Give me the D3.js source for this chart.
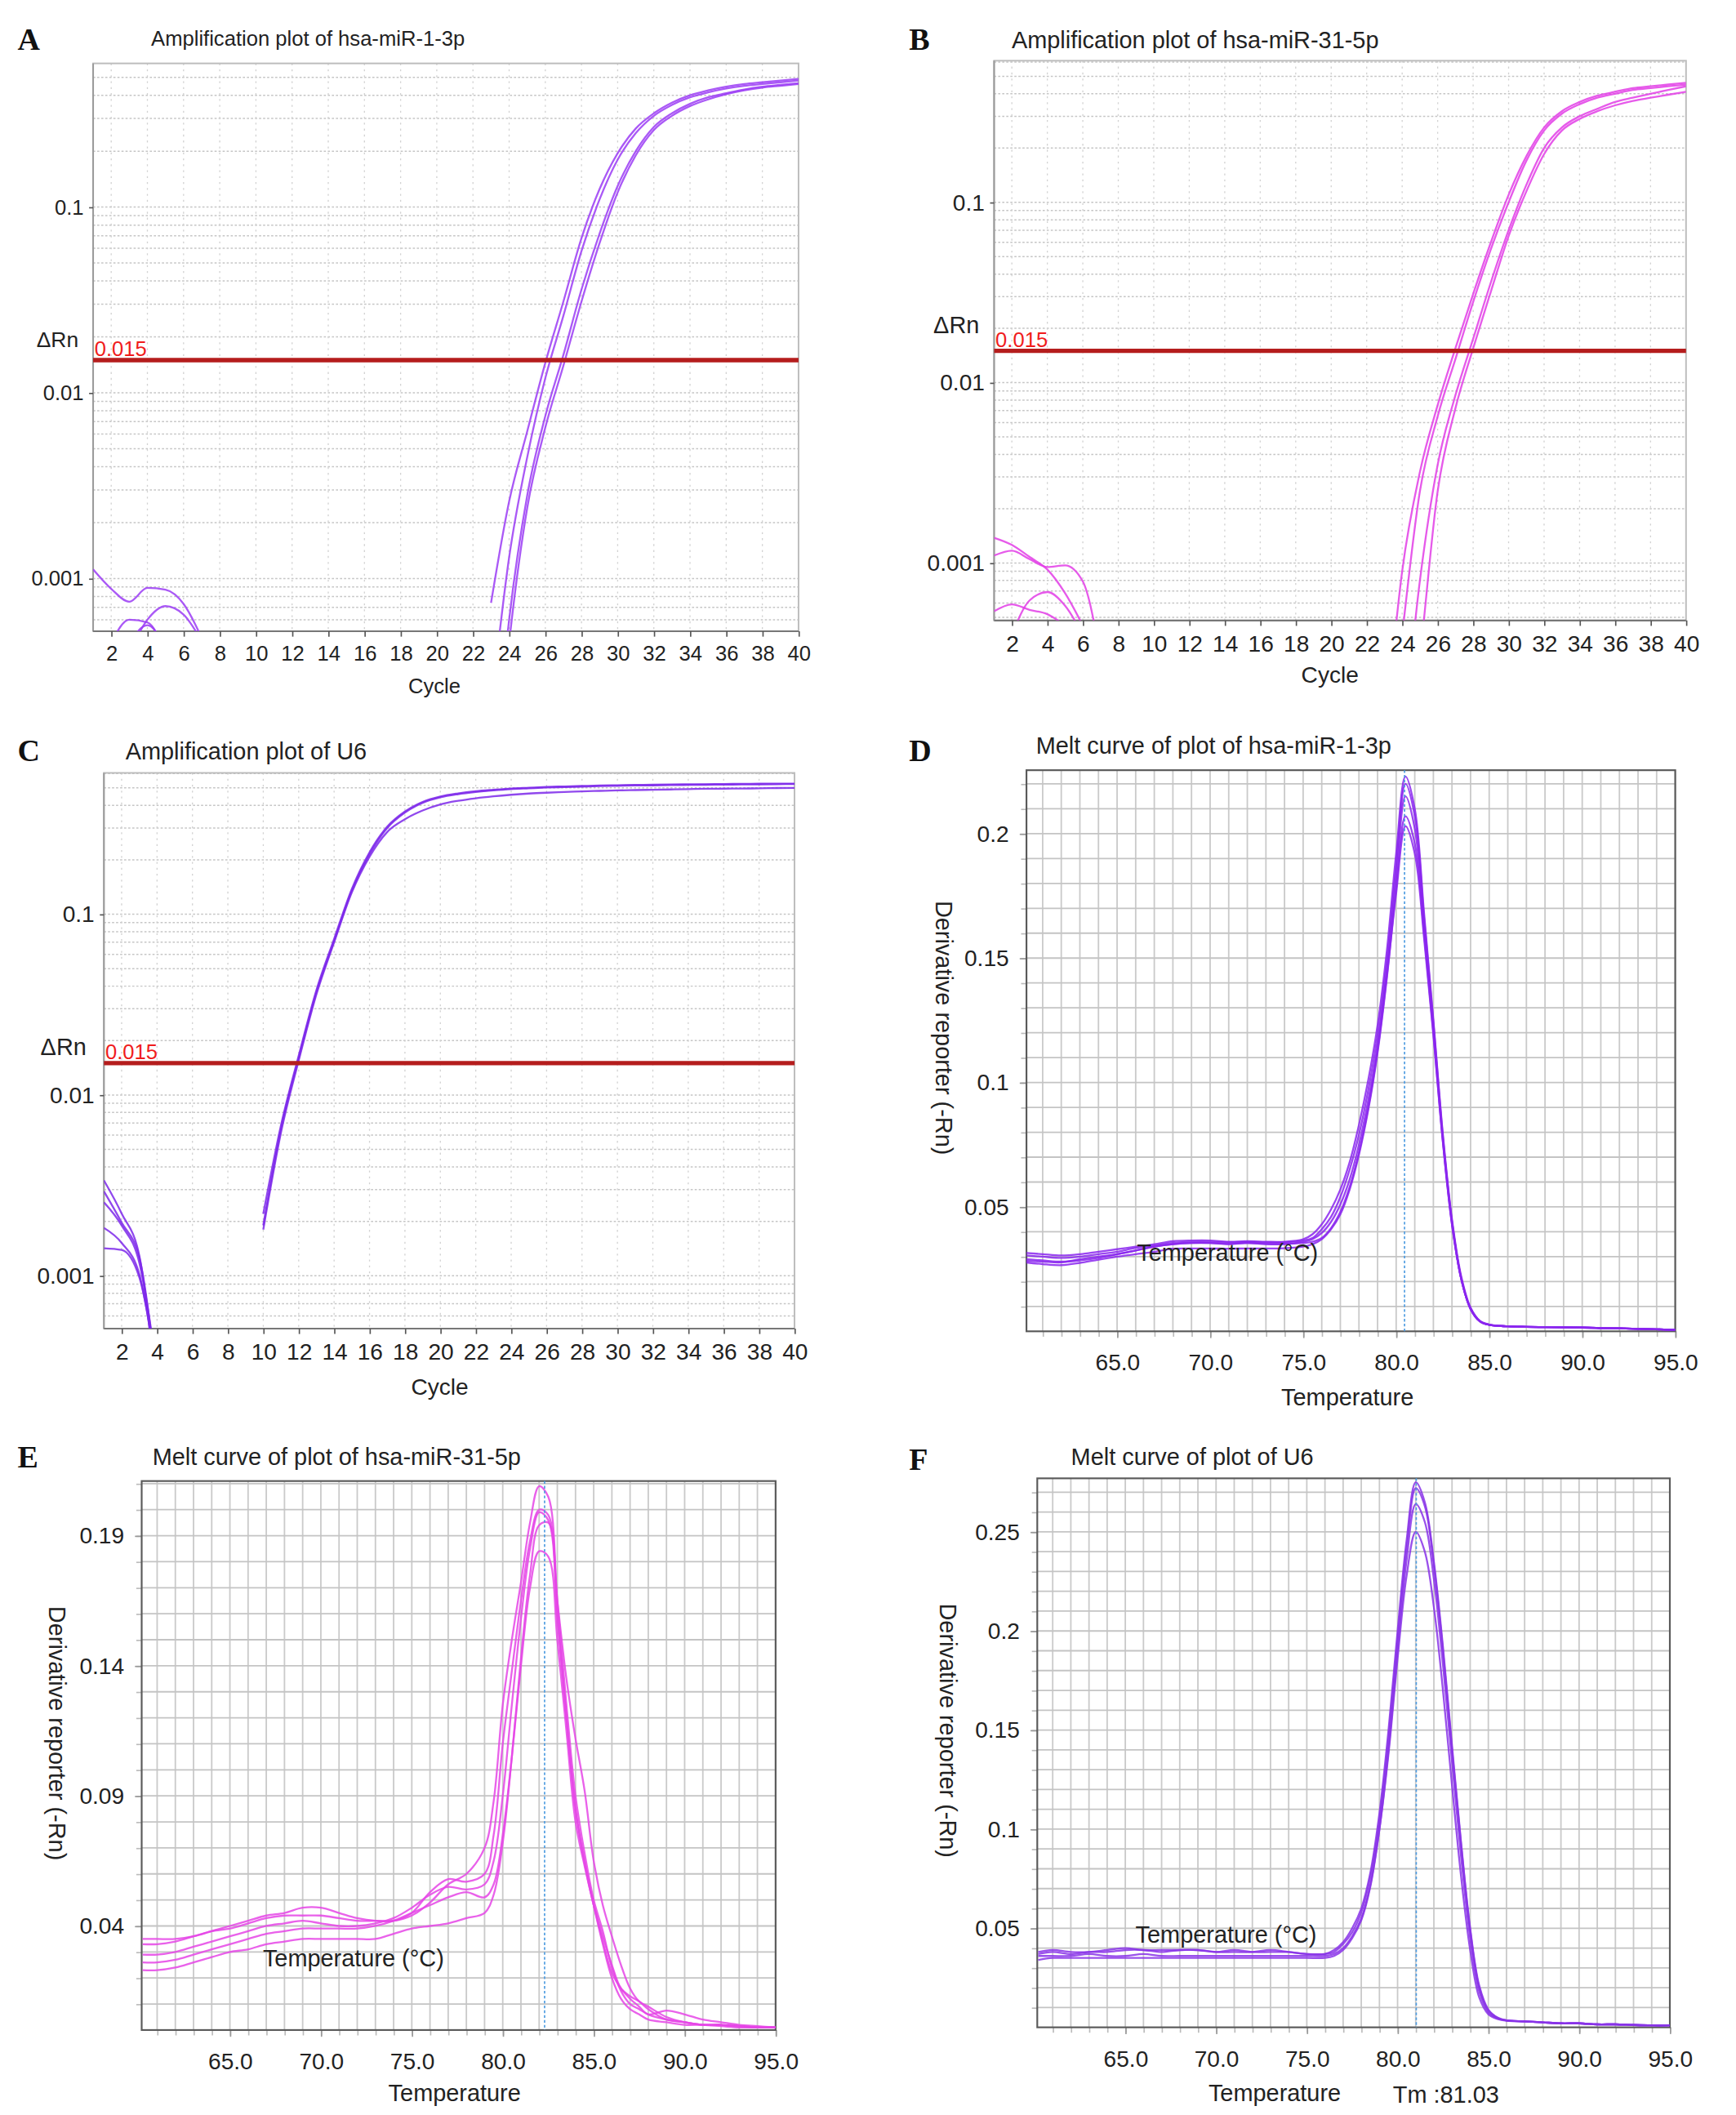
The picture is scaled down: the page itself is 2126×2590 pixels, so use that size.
<!DOCTYPE html>
<html>
<head>
<meta charset="utf-8">
<script src="https://cdn.jsdelivr.net/npm/d3@7"></script>
<style>
  body { margin: 0; background: #fff; }
  svg { display: block; }
</style>
</head>
<body>
<svg id="fig" width="2126" height="2590" viewBox="0 0 1287 1568"></svg>
<script>
// ---------- data ----------

// amplification plots: cycles and delta Rn per well
var cycLate = [23,24,25,26,27,28,29,30,31,32,33,34,35,36,37,38,39,40];
var cycU6 = [10,11,12,13,14,15,16,17,18,19,20,21,22,23,24,25,26,27,28,29,30,31,32,33,34,35,36,37,38,39,40];
var cycEarly = [1,2,3,4,5,6,7];
var cycU6Early = [1,2,3,4];
var cycleTicks = [2,4,6,8,10,12,14,16,18,20,22,24,26,28,30,32,34,36,38,40];
var ampYTicks = [0.001, 0.01, 0.1];
var threshold = 0.015;

var miR1_amp = [
  [0.00074,0.0026,0.0062,0.0145,0.031,0.068,0.125,0.195,0.265,0.32,0.365,0.40,0.425,0.445,0.46,0.47,0.48,0.49],
  [0.0002,0.0013,0.0045,0.012,0.026,0.058,0.11,0.18,0.25,0.31,0.355,0.39,0.415,0.435,0.45,0.46,0.47,0.48],
  [0.00006,0.0006,0.0028,0.0075,0.016,0.036,0.072,0.13,0.2,0.27,0.32,0.36,0.39,0.41,0.43,0.445,0.455,0.465],
  [0.00004,0.00045,0.0024,0.0065,0.014,0.031,0.064,0.12,0.19,0.26,0.31,0.35,0.38,0.405,0.425,0.44,0.45,0.46]
];
var miR1_noise = [
  [0.00112,0.00088,0.00075,0.00089,0.00087,0.00073,0.00048],
  [null,null,0.0004,0.0006,0.00071,0.00064,0.00046],
  [null,0.00045,0.0006,0.00058,0.0004,null,null],
  [null,null,0.00045,0.00056,0.00042,null,null]
];

var miR31_amp = [
  [0.0001,0.0009,0.0032,0.0075,0.0155,0.031,0.06,0.11,0.18,0.26,0.32,0.36,0.39,0.41,0.43,0.44,0.45,0.46],
  [0.00005,0.0004,0.0025,0.0065,0.0135,0.028,0.055,0.1,0.17,0.25,0.31,0.35,0.38,0.40,0.42,0.43,0.44,0.45],
  [0.00002,0.0001,0.0008,0.0035,0.0085,0.0175,0.036,0.07,0.125,0.2,0.26,0.3,0.33,0.36,0.38,0.4,0.42,0.44],
  [0.00001,0.00005,0.0003,0.0025,0.0072,0.0155,0.032,0.065,0.115,0.185,0.25,0.29,0.32,0.345,0.365,0.38,0.395,0.41]
];
var miR31_noise = [
  [0.00138,0.00126,0.00108,0.00092,0.00068,0.00045,null],
  [0.0011,0.00117,0.00105,0.00095,0.00097,0.00079,0.0003],
  [0.00054,0.00059,0.00055,0.00052,0.00045,null,null],
  [null,0.0004,0.00062,0.00069,0.00058,0.0004,null]
];

var u6_amp = [
  [0.0022,0.0068,0.0165,0.038,0.073,0.138,0.22,0.305,0.37,0.418,0.448,0.466,0.479,0.488,0.496,0.501,0.506,0.509,0.512,0.515,0.517,0.519,0.52,0.522,0.523,0.524,0.525,0.526,0.527,0.528,0.528],
  [0.0019,0.0065,0.016,0.037,0.071,0.135,0.215,0.3,0.365,0.413,0.443,0.461,0.474,0.484,0.492,0.497,0.502,0.505,0.508,0.511,0.513,0.515,0.516,0.518,0.519,0.52,0.521,0.522,0.523,0.524,0.525],
  [0.0018,0.0062,0.0155,0.036,0.07,0.132,0.208,0.285,0.335,0.375,0.405,0.424,0.438,0.449,0.458,0.465,0.47,0.474,0.478,0.481,0.484,0.486,0.488,0.49,0.492,0.494,0.495,0.496,0.497,0.499,0.5]
];
var u6_noise = [
  [0.00337,0.00221,0.00129,0.0002],
  [0.00293,0.00197,0.00126,0.00025],
  [0.00255,0.0019,0.00118,0.0003],
  [0.00184,0.00152,0.00102,0.00028],
  [0.00142,0.00139,0.00098,0.0003]
];

// melt curves: temperature and derivative reporter per well
var tempTicks = [65,70,75,80,85,90,95];

var tempD = [60.1,61,62,63,64,65,66,67,68,69,70,71,72,73,74,75,
  75.5,76,76.5,77,77.5,78,78.5,79,79.5,80,80.5,81,81.5,82,82.5,83,83.5,84,84.5,85,
  86,87,88,89,90,91,92,93,94,95];
var miR1_melt = [
  [.0315,.031,.0305,.031,.032,.033,.034,.035,.0362,.0365,.0365,.036,.0362,.036,.036,.037,
   .039,.043,.049,.057,.068,.083,.101,.123,.153,.192,.223,.21,.168,.125,.08,.045,.022,.0095,.0042,.0027,
   .002,.0018,.0017,.0016,.0015,.0013,.0012,.001,.0008,.0006],
  [.0305,.030,.0295,.030,.031,.032,.0335,.0345,.0355,.036,.036,.0358,.036,.0358,.0358,.0365,
   .0375,.041,.046,.054,.065,.079,.097,.119,.149,.187,.22,.207,.166,.124,.079,.044,.021,.009,.004,.0026,
   .002,.0018,.0017,.0016,.0015,.0013,.0012,.001,.0008,.0006],
  [.0283,.028,.0277,.029,.030,.031,.0325,.034,.035,.0355,.0355,.035,.0355,.035,.035,.036,
   .037,.0395,.044,.051,.061,.075,.093,.115,.145,.183,.215,.202,.163,.122,.078,.044,.021,.009,.004,.0026,
   .002,.0018,.0017,.0016,.0015,.0013,.0012,.001,.0008,.0006],
  [.0277,.027,.0266,.0275,.0288,.030,.031,.032,.0332,.0333,.0333,.0332,.0333,.0333,.0334,.034,
   .035,.037,.041,.047,.057,.071,.089,.112,.142,.178,.207,.196,.16,.12,.077,.043,.021,.009,.004,.0026,
   .002,.0018,.0017,.0016,.0015,.0013,.0012,.001,.0008,.0006],
  [.029,.0285,.028,.0285,.0295,.031,.0325,.034,.035,.0355,.0355,.0352,.0355,.0352,.0352,.0355,
   .036,.0375,.0415,.048,.058,.072,.09,.113,.143,.176,.203,.192,.158,.119,.077,.043,.021,.009,.004,.0026,
   .002,.0018,.0017,.0016,.0015,.0013,.0012,.001,.0008,.0006]
];
var tmD = 80.45;
var yTicksD = [0.05, 0.1, 0.15, 0.2];

var tempE = [60.2,61,62,63,64,65,66,67,68,69,70,71,72,73,74,75,76,77,78,79,
  79.5,80,80.5,81,81.5,82,82.5,83,83.5,84,84.5,85,85.5,86,86.5,87,87.5,
  88,89,90,91,92,93,94,95];
var miR31_melt = [
  [.035,.035,.035,.036,.038,.040,.042,.044,.045,.047,.047,.045,.043,.042,.042,.044,.049,.056,.060,.070,
   .088,.125,.150,.172,.195,.209,.205,.165,.125,.09,.068,.05,.038,.024,.015,.01,.008,
   .006,.004,.003,.002,.002,.0015,.001,.001],
  [.033,.033,.034,.036,.038,.039,.041,.043,.044,.044,.044,.043,.042,.042,.042,.045,.053,.058,.057,.060,
   .075,.11,.138,.165,.188,.200,.198,.165,.135,.112,.092,.065,.048,.036,.025,.016,.011,
   .009,.005,.003,.002,.002,.0015,.001,.001],
  [.029,.029,.030,.032,.034,.036,.038,.040,.041,.042,.041,.040,.040,.041,.043,.047,.052,.055,.054,.056,
   .065,.09,.125,.158,.185,.199,.196,.16,.12,.085,.064,.048,.036,.025,.016,.013,.011,
   .008,.004,.003,.002,.002,.0015,.001,.001],
  [.026,.026,.027,.029,.031,.033,.035,.037,.038,.039,.039,.039,.039,.040,.042,.045,.048,.051,.053,.051,
   .056,.075,.105,.140,.170,.184,.182,.15,.115,.08,.063,.048,.034,.022,.016,.012,.009,
   .006,.0075,.006,.004,.003,.002,.0015,.001],
  [.023,.023,.024,.026,.028,.030,.031,.033,.034,.035,.035,.035,.035,.035,.037,.039,.040,.041,.043,.045,
   .052,.072,.105,.143,.175,.194,.195,.158,.12,.085,.065,.048,.033,.02,.012,.008,.006,
   .004,.003,.002,.002,.0015,.001,.001,.001]
];
var tmE = 82.3;
var yTicksE = [0.04, 0.09, 0.14, 0.19];

var tempF = [60.2,61,62,63,64,65,66,67,68,69,70,71,72,73,74,75,76,
  76.5,77,77.5,78,78.5,79,79.5,80,80.5,81,81.5,82,82.5,83,83.5,84,84.5,85,85.5,86,
  87,88,89,90,91,92,93,94,95];
var u6_melt = [
  [.038,.039,.038,.038,.039,.040,.039,.039,.039,.039,.038,.038,.038,.039,.038,.037,.037,
   .039,.043,.050,.060,.078,.108,.150,.200,.246,.275,.265,.235,.192,.142,.093,.050,.021,.009,.005,.0035,
   .003,.0025,.002,.002,.0015,.0015,.0012,.001,.001],
  [.037,.038,.037,.038,.038,.039,.039,.038,.039,.039,.038,.039,.038,.038,.038,.037,.037,
   .038,.042,.048,.058,.076,.105,.146,.196,.242,.272,.263,.233,.190,.140,.092,.049,.020,.0085,.0048,.0035,
   .003,.0025,.002,.002,.0015,.0015,.0012,.001,.001],
  [.034,.035,.035,.035,.035,.035,.035,.035,.035,.035,.035,.035,.035,.035,.035,.035,.035,
   .036,.039,.045,.054,.071,.100,.140,.190,.236,.264,.255,.226,.183,.134,.086,.045,.018,.0075,.0045,.0035,
   .003,.0025,.002,.002,.0015,.0015,.0012,.001,.001],
  [.036,.036,.036,.037,.036,.036,.037,.036,.036,.036,.036,.036,.036,.036,.036,.036,.036,
   .037,.040,.046,.055,.072,.100,.138,.186,.228,.250,.240,.212,.170,.122,.076,.039,.015,.0066,.0042,.0033,
   .003,.0025,.002,.002,.0015,.0015,.0012,.001,.001]
];
var tmF = 81.03;
var yTicksF = [0.05, 0.1, 0.15, 0.2, 0.25];

// ---------- drawing ----------
var svg = d3.select("#fig");
var SANS = "'Liberation Sans', Arial, sans-serif";
var SERIF = "'Liberation Serif', 'Times New Roman', serif";
var defs = svg.append("defs");

function zip(xs, ys) {
  return xs.map(function(v, i) { return [v, ys[i]]; });
}

function addText(x, y, str, size, opts) {
  opts = opts || {};
  var t = svg.append("text")
    .attr("x", x).attr("y", y)
    .attr("font-family", opts.family || SANS)
    .attr("font-size", size)
    .attr("font-weight", opts.weight || "normal")
    .attr("fill", opts.fill || "#222")
    .attr("text-anchor", opts.anchor || "start")
    .text(str);
  if (opts.rotate) t.attr("transform", "rotate(" + opts.rotate + "," + x + "," + y + ")");
  return t;
}

function clipFor(p) {
  defs.append("clipPath").attr("id", "clip" + p.id)
    .append("rect").attr("x", p.x0).attr("y", p.y0)
    .attr("width", p.x1 - p.x0).attr("height", p.y1 - p.y0);
  return "url(#clip" + p.id + ")";
}

function styleAxis(ax, size) {
  ax.select(".domain").remove();
  ax.selectAll("text").attr("font-family", SANS).attr("font-size", size).attr("fill", "#222");
  ax.selectAll("line").attr("stroke", "#555");
}

function drawAmp(p, cycles, curves, earlyCycles, noise) {
  var g = svg.append("g");
  var x = d3.scaleLinear().domain([1, 40]).range([p.x0, p.x1]);
  var y = d3.scaleLog().domain(p.yDom).range([p.y1, p.y0]);
  var clip = clipFor(p);

  g.selectAll("line.hg").data(y.ticks()).join("line")
    .attr("x1", p.x0).attr("x2", p.x1)
    .attr("y1", function(d) { return y(d); }).attr("y2", function(d) { return y(d); })
    .attr("stroke", "#c6c6c6").attr("stroke-width", 0.9).attr("stroke-dasharray", "1.6,1.4");
  g.selectAll("line.vg").data(cycleTicks.filter(function(c) { return c < 40; })).join("line")
    .attr("y1", p.y0).attr("y2", p.y1)
    .attr("x1", function(d) { return x(d); }).attr("x2", function(d) { return x(d); })
    .attr("stroke", "#d2d2d2").attr("stroke-width", 0.8).attr("stroke-dasharray", "1.4,3");

  g.append("rect").attr("x", p.x0).attr("y", p.y0)
    .attr("width", p.x1 - p.x0).attr("height", p.y1 - p.y0)
    .attr("fill", "none").attr("stroke", "#bdbdbd").attr("stroke-width", 1.2);
  g.append("line").attr("x1", p.x0).attr("x2", p.x0).attr("y1", p.y0).attr("y2", p.y1)
    .attr("stroke", "#9a9a9a").attr("stroke-width", 1.2);
  g.append("line").attr("x1", p.x0).attr("x2", p.x1).attr("y1", p.y1).attr("y2", p.y1)
    .attr("stroke", "#777").attr("stroke-width", 1.3);

  var ax = g.append("g").attr("transform", "translate(0," + p.y1 + ")")
    .call(d3.axisBottom(x).tickValues(cycleTicks).tickSize(4).tickPadding(7));
  styleAxis(ax, p.tick);
  var ay = g.append("g").attr("transform", "translate(" + p.x0 + ",0)")
    .call(d3.axisLeft(y).tickValues(ampYTicks).tickFormat(function(d) { return String(d); })
      .tickSize(3).tickPadding(4));
  styleAxis(ay, p.tick);

  var line = d3.line()
    .defined(function(d) { return d[1] != null; })
    .x(function(d) { return x(d[0]); })
    .y(function(d) { return y(d[1]); })
    .curve(d3.curveMonotoneX);
  var lines = curves.map(function(c) { return zip(cycles, c); })
    .concat(noise.map(function(c) { return zip(earlyCycles, c); }));
  g.append("g").attr("clip-path", clip)
    .selectAll("path").data(lines).join("path")
    .attr("d", line).attr("fill", "none")
    .attr("stroke", p.color).attr("stroke-width", 1.4).attr("stroke-opacity", 0.85);

  var ty = y(threshold);
  g.append("line").attr("x1", p.x0).attr("x2", p.x1).attr("y1", ty).attr("y2", ty)
    .attr("stroke", "#b51d1d").attr("stroke-width", 3.2);
  addText(p.x0 + 1, ty - 3, "0.015", 15.5, { fill: "#f01c1c" });

  addText(p.rn[0], p.rn[1], "\u0394Rn", p.tick + 0.5);
  addText(p.cycle[0], p.cycle[1], "Cycle", p.tick, { anchor: "middle" });
  addText(p.title[0], p.title[1], p.titleText, p.title[2]);
  addText(p.letter[0], p.letter[1], p.id, 23, { family: SERIF, weight: "bold", fill: "#111" });
}

function drawMelt(p, temps, curves, tm, yTicks) {
  var g = svg.append("g");
  var x = d3.scaleLinear().domain(p.xDom).range([p.x0, p.x1]);
  var y = d3.scaleLinear().domain([0, p.yMax]).range([p.y1, p.y0]);
  var clip = clipFor(p);

  var vGrid = d3.range(Math.ceil(p.xDom[0]), Math.floor(p.xDom[1]) + 1);
  var hGrid = d3.range(1, Math.floor(p.yMax * 100) + 1).map(function(k) { return k / 100; });

  g.selectAll("line.vg").data(vGrid).join("line")
    .attr("y1", p.y0).attr("y2", p.y1)
    .attr("x1", function(d) { return x(d); }).attr("x2", function(d) { return x(d); })
    .attr("stroke", "#cacaca").attr("stroke-width", 1.1);
  g.selectAll("line.hg").data(hGrid).join("line")
    .attr("x1", p.x0).attr("x2", p.x1)
    .attr("y1", function(d) { return y(d); }).attr("y2", function(d) { return y(d); })
    .attr("stroke", "#c4c4c4").attr("stroke-width", 1.1);

  var minorX = g.append("g").attr("transform", "translate(0," + p.y1 + ")")
    .call(d3.axisBottom(x).tickValues(vGrid).tickFormat("").tickSize(4));
  styleAxis(minorX, 10);
  minorX.selectAll("line").attr("stroke", "#bbb");
  var ax = g.append("g").attr("transform", "translate(0," + p.y1 + ")")
    .call(d3.axisBottom(x).tickValues(tempTicks).tickFormat(d3.format(".1f")).tickSize(5).tickPadding(12));
  styleAxis(ax, 17);
  ax.selectAll("line").attr("stroke", "#999");
  var minorY = g.append("g").attr("transform", "translate(" + p.x0 + ",0)")
    .call(d3.axisLeft(y).tickValues(hGrid).tickFormat("").tickSize(4));
  styleAxis(minorY, 10);
  minorY.selectAll("line").attr("stroke", "#bbb");
  var ay = g.append("g").attr("transform", "translate(" + p.x0 + ",0)")
    .call(d3.axisLeft(y).tickValues(yTicks).tickFormat(function(d) { return String(d); })
      .tickSize(5).tickPadding(8));
  styleAxis(ay, 17);
  ay.selectAll("line").attr("stroke", "#999");

  g.append("rect").attr("x", p.x0).attr("y", p.y0)
    .attr("width", p.x1 - p.x0).attr("height", p.y1 - p.y0)
    .attr("fill", "none").attr("stroke", "#5a5a5a").attr("stroke-width", 1.3);

  var line = d3.line()
    .x(function(d) { return x(d[0]); })
    .y(function(d) { return y(d[1]); })
    .curve(d3.curveCatmullRom.alpha(0.5));
  g.append("g").attr("clip-path", clip)
    .selectAll("path").data(curves.map(function(c) { return zip(temps, c); })).join("path")
    .attr("d", line).attr("fill", "none")
    .attr("stroke", p.color).attr("stroke-width", 1.4).attr("stroke-opacity", 0.85);

  g.append("line").attr("x1", x(tm)).attr("x2", x(tm)).attr("y1", p.y0).attr("y2", p.y1)
    .attr("stroke", "#4d9be0").attr("stroke-width", 1).attr("stroke-dasharray", "2,1.6");

  addText(p.inner[0], p.inner[1], "Temperature (\u00B0C)", 17.5, { anchor: "middle" });
  addText(p.xlab[0], p.xlab[1], "Temperature", 17.5, { anchor: "middle" });
  addText(p.ylab[0], p.ylab[1], "Derivative reporter (-Rn)", 17.5, { anchor: "middle", rotate: 90 });
  addText(p.title[0], p.title[1], p.titleText, 17.5);
  addText(p.letter[0], p.letter[1], p.id, 23, { family: SERIF, weight: "bold", fill: "#111" });
  return x;
}

// panel frames and text anchors (figure coordinates)
drawAmp({ id: "A", x0: 69, x1: 592, y0: 47, y1: 468, yDom: [0.00052, 0.594], color: "#9b3cf4",
  tick: 15.5, rn: [27, 257], cycle: [322, 514], title: [112, 34, 15.5],
  titleText: "Amplification plot of hsa-miR-1-3p", letter: [13, 37] },
  cycLate, miR1_amp, cycEarly, miR1_noise);

drawAmp({ id: "B", x0: 737, x1: 1250, y0: 45, y1: 460, yDom: [0.00048, 0.61], color: "#e23de6",
  tick: 17, rn: [692, 247], cycle: [986, 506], title: [750, 36, 17.5],
  titleText: "Amplification plot of hsa-miR-31-5p", letter: [674, 37] },
  cycLate, miR31_amp, cycEarly, miR31_noise);

drawAmp({ id: "C", x0: 77, x1: 589, y0: 573, y1: 985, yDom: [0.00051, 0.605], color: "#7c28ea",
  tick: 17, rn: [30, 782], cycle: [326, 1034], title: [93, 563, 17.5],
  titleText: "Amplification plot of U6", letter: [13, 564] },
  cycU6, u6_amp, cycU6Early, u6_noise);

drawMelt({ id: "D", x0: 761, x1: 1242, y0: 571, y1: 987, xDom: [60.13, 95], yMax: 0.2255, color: "#8a26ee",
  inner: [910, 935], xlab: [999, 1042], ylab: [694, 762], title: [768, 559],
  titleText: "Melt curve of plot of hsa-miR-1-3p", letter: [674, 564] },
  tempD, miR1_melt, tmD, yTicksD);

drawMelt({ id: "E", x0: 105, x1: 575, y0: 1098, y1: 1505, xDom: [60.15, 95], yMax: 0.211, color: "#e545e6",
  inner: [262, 1458], xlab: [337, 1558], ylab: [36, 1285], title: [113, 1086],
  titleText: "Melt curve of plot of hsa-miR-31-5p", letter: [13, 1088] },
  tempE, miR31_melt, tmE, yTicksE);

drawMelt({ id: "F", x0: 769, x1: 1238, y0: 1096, y1: 1503, xDom: [60.15, 95], yMax: 0.277, color: "#8832e8",
  inner: [909, 1440], xlab: [945, 1558], ylab: [697, 1283], title: [794, 1086],
  titleText: "Melt curve of plot of U6", letter: [674, 1090] },
  tempF, u6_melt, tmF, yTicksF);

addText(1072, 1559, "Tm :" + tmF.toFixed(2), 17.5, { anchor: "middle" });
</script>
</body>
</html>
